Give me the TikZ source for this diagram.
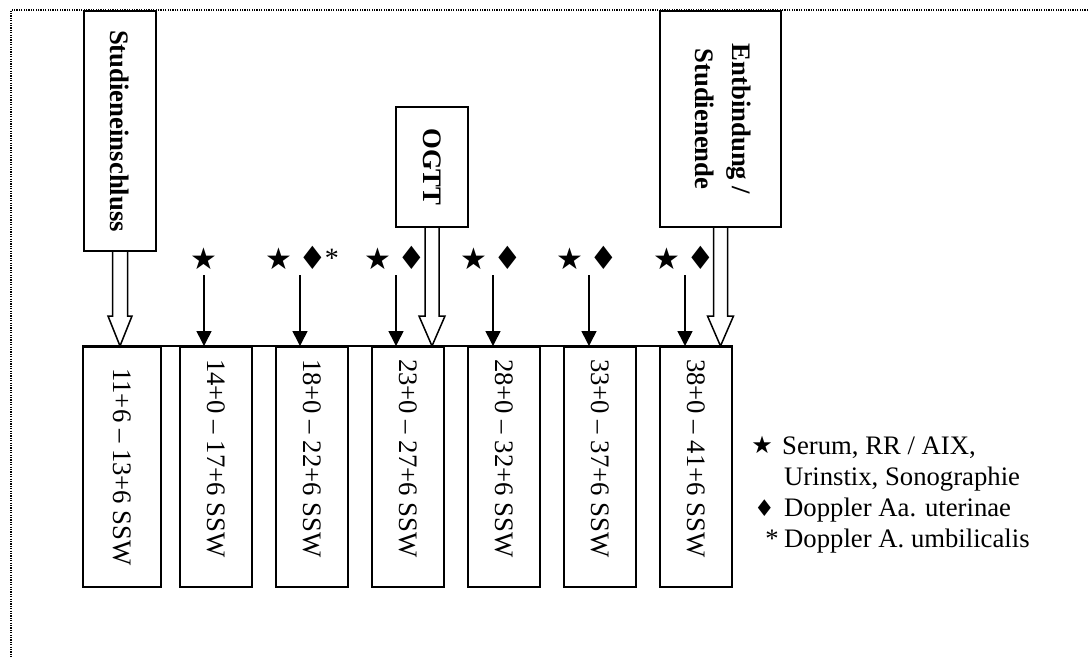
\documentclass[tikz,border=0pt]{standalone}
\usepackage{fontspec}
\usepackage{graphicx}
\setmainfont{Liberation Serif}
\newfontfamily\symfont{DejaVu Sans}
\usetikzlibrary{arrows.meta,calc}

\newcommand{\bodysize}{\fontsize{26.7}{31}\selectfont}
\newcommand{\vlabel}[1]{\rotatebox{-90}{#1}}
\newcommand{\sswlabel}[1]{\rotatebox{-90}{\makebox[216pt][l]{#1}}}
\newcommand{\dia}{\hspace{6pt}{\fontsize{32}{36}\selectfont ♦}}

\tikzset{
  event/.style={draw, line width=2pt, fill=white, font=\bodysize\bfseries, inner sep=0pt},
  period/.style={draw, line width=2pt, fill=white, font=\bodysize, inner sep=0pt,
    minimum width=72pt, minimum height=240pt},
  marks/.style={anchor=base, inner sep=0pt, font=\symfont\fontsize{30}{34}\selectfont},
  key/.style={anchor=base west, inner sep=0pt, font=\bodysize},
  tick/.style={line width=1.6pt, -{Triangle[length=15pt,width=15pt]}},
  hollow/.style={draw, fill=white, line width=1.5pt, line join=miter},
  frame/.style={line width=1.2pt, dash pattern=on 1.2pt off 1.2pt}
}

\begin{document}
\begin{tikzpicture}[x=1pt,y=-1pt]

  \useasboundingbox (0,0) rectangle (1088,657);
  \draw[frame] (1088,10) -- (11,10) -- (11,657);

  % events on top
  \node[event, minimum width=72pt, minimum height=240pt] (einschluss) at (120,131) {\vlabel{Studieneinschluss}};
  \node[event, minimum width=72pt, minimum height=120pt] (ogtt) at (432,167) {\vlabel{OGTT}};
  \node[event, minimum width=121pt, minimum height=216pt] (ende) at (720.5,119)
    {\vlabel{\begin{tabular}{@{}c@{}}Entbindung /\\[6pt]Studienende\end{tabular}}};

  % pregnancy weeks
  \node[period, minimum width=78pt] (w1) at (122,467) {\vlabel{11+6 – 13+6 SSW}};
  \node[period] (w2) at (216,467) {\sswlabel{14+0 – 17+6 SSW}};
  \node[period] (w3) at (312,467) {\sswlabel{18+0 – 22+6 SSW}};
  \node[period] (w4) at (408,467) {\sswlabel{23+0 – 27+6 SSW}};
  \node[period] (w5) at (504,467) {\sswlabel{28+0 – 32+6 SSW}};
  \node[period] (w6) at (600,467) {\sswlabel{33+0 – 37+6 SSW}};
  \node[period] (w7) at (696,467) {\sswlabel{38+0 – 41+6 SSW}};
  \draw[line width=2pt] (w1.north west) -- (w7.north east);

  % examinations per visit
  \node[marks] (m2) at (204,269) {★};
  \node[marks] (m3) at (302,269) {★\dia{\rmfamily\fontsize{28}{30}\selectfont\hspace{-2pt}\raisebox{2pt}{*}}};
  \node[marks] (m4) at (395,269) {★\dia};
  \node[marks] (m5) at (491,269) {★\dia};
  \node[marks] (m6) at (587,269) {★\dia};
  \node[marks] (m7) at (684,269) {★\dia};

  \coordinate (t2) at (204,275);
  \coordinate (t3) at (300,275);
  \coordinate (t4) at (396,275);
  \coordinate (t5) at (493,275);
  \coordinate (t6) at (589,275);
  \coordinate (t7) at (685,275);

  \draw[tick] (t2) -- (t2 |- w2.north);
  \draw[tick] (t3) -- (t3 |- w3.north);
  \draw[tick] (t4) -- (t4 |- w4.north);
  \draw[tick] (t5) -- (t5 |- w5.north);
  \draw[tick] (t6) -- (t6 |- w6.north);
  \draw[tick] (t7) -- (t7 |- w7.north);

  % hollow arrows from the events
  \draw[hollow] ($(einschluss.south)+(-7.5,0)$) -- ($(einschluss.south |- w1.north)+(-7.5,-30)$)
    -- ++(-4.5,0) -- (einschluss.south |- w1.north) -- ++(12,-30) -- ++(-4.5,0)
    -- ($(einschluss.south)+(7.5,0)$);
  \draw[hollow] ($(ogtt.south)+(-7,0)$) -- ($(ogtt.south |- w4.north)+(-7,-30)$)
    -- ++(-6,0) -- (ogtt.south |- w4.north) -- ++(13,-30) -- ++(-6,0)
    -- ($(ogtt.south)+(7,0)$);
  \draw[hollow] ($(ende.south)+(-7,0)$) -- ($(ende.south |- w7.north)+(-7,-30)$)
    -- ++(-6,0) -- (ende.south |- w7.north) -- ++(13,-30) -- ++(-6,0)
    -- ($(ende.south)+(7,0)$);

  % key
  \node[anchor=base east, inner sep=0pt, font=\symfont\fontsize{24}{28}\selectfont] (ks1) at (773,453) {★};
  \node[anchor=base east, inner sep=0pt, font=\symfont\fontsize{23}{27}\selectfont] (ks2) at (775,516) {♦};
  \node[anchor=base east, inner sep=0pt, font=\bodysize] (ks3) at (779,547) {*};
  \node[key] (k1) at (782,454) {Serum, RR / AIX,};
  \node[key] (k2) at (784,485) {Urinstix, Sonographie};
  \node[key] (k3) at (784,516) {Doppler Aa. uterinae};
  \node[key] (k4) at (784,547) {Doppler A. umbilicalis};

\end{tikzpicture}
\end{document}
